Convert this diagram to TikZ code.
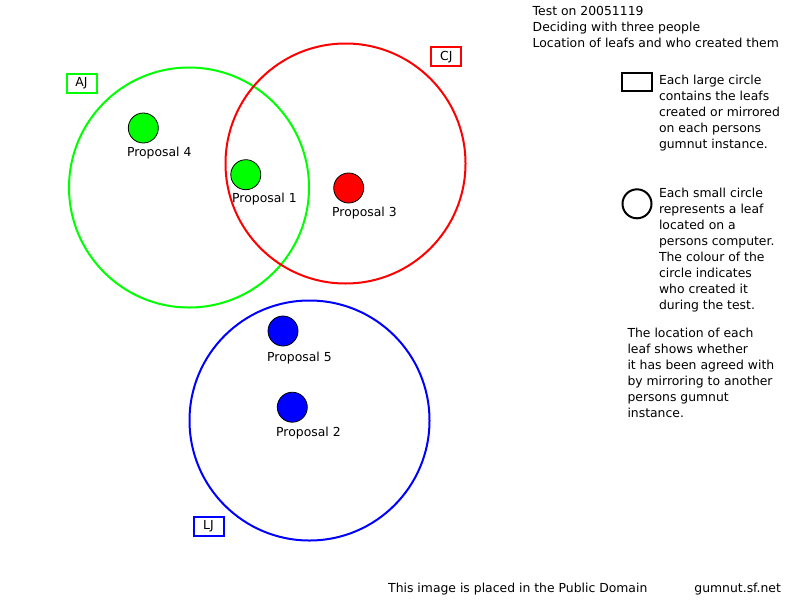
\documentclass[tikz,border=0pt]{standalone}
\usepackage{fontspec}
\setmainfont{DejaVu Sans}
\usetikzlibrary{positioning}
\definecolor{ajgreen}{RGB}{0,255,0}
\definecolor{cjred}{RGB}{255,0,0}
\definecolor{ljblue}{RGB}{0,0,255}

\begin{document}
\begin{tikzpicture}[x=1pt, y=-1pt,
        ring/.style={circle, draw, line width=2pt, minimum size=240pt, inner sep=0pt},
        leaf/.style={circle, draw=black, line width=0.8pt, minimum size=30pt, inner sep=0pt},
        tag/.style={rectangle, draw, line width=2pt, minimum width=30pt, minimum height=19pt, inner sep=0pt, font=\fontsize{12.4}{16}\selectfont},
        txt/.style={inner sep=0pt, align=left, anchor=north west, font=\fontsize{12.4}{16}\selectfont},
        foot/.style={inner sep=0pt, anchor=base west, font=\fontsize{12.4}{16}\selectfont}
    ]
        \useasboundingbox[fill=white] (0,0) rectangle (800,600);

        % Large circles, one per person
        \node[ring, draw=ajgreen] (aj) at (189,187.5) {};
        \node[ring, draw=cjred] (cj) at (345.5,163.5) {};
        \node[ring, draw=ljblue] (lj) at (309.5,420.5) {};

        % Person tags
        \node[tag, draw=ajgreen] (ajtag) at (81.5,83.7) {AJ};
        \node[tag, draw=cjred] (cjtag) at (446.3,56.7) {CJ};
        \node[tag, draw=ljblue] (ljtag) at (208.5,526.3) {LJ};

        % Leafs
        \node[leaf, fill=ajgreen] (p4) at (143.3,128) {};
        \node[leaf, fill=ajgreen] (p1) at (245.8,174.7) {};
        \node[leaf, fill=cjred] (p3) at (348.7,188) {};
        \node[leaf, fill=ljblue] (p5) at (283,331) {};
        \node[leaf, fill=ljblue] (p2) at (292.3,407.2) {};
        \node[txt] (p4lbl) at (126.8,146.5) {Proposal 4};
        \node[txt] (p1lbl) at (232,192.8) {Proposal 1};
        \node[txt] (p3lbl) at (332,207.2) {Proposal 3};
        \node[txt] (p5lbl) at (267,352.2) {Proposal 5};
        \node[txt] (p2lbl) at (276,427.2) {Proposal 2};

        % Title
        \node[txt] (title) at (532.5,6.3) {Test on 20051119\\Deciding with three people\\Location of leafs and who created them};

        % Legend
        \node[rectangle, draw, line width=2pt, minimum width=30pt, minimum height=18pt, inner sep=0pt] (keyring) at (636.7,82.3) {};
        \node[txt] (keyringtxt) at (658.8,74.4) {Each large circle\\contains the leafs\\created or mirrored\\on each persons\\gumnut instance.};
        \node[circle, draw, line width=2pt, minimum size=29pt, inner sep=0pt] (keyleaf) at (637,203.8) {};
        \node[txt] (keyleaftxt) at (658.8,187.4) {Each small circle\\represents a leaf\\located on a\\persons computer.\\The colour of the\\circle indicates\\who created it\\during the test.};
        \node[txt] (note) at (627.3,327.7) {The location of each\\leaf shows whether\\it has been agreed with\\by mirroring to another\\persons gumnut\\instance.};

        % Footer
        \node[foot] (pd) at (388,592) {This image is placed in the Public Domain};
        \node[foot] (site) at (694.2,592) {gumnut.sf.net};
    \end{tikzpicture}
\end{document}
